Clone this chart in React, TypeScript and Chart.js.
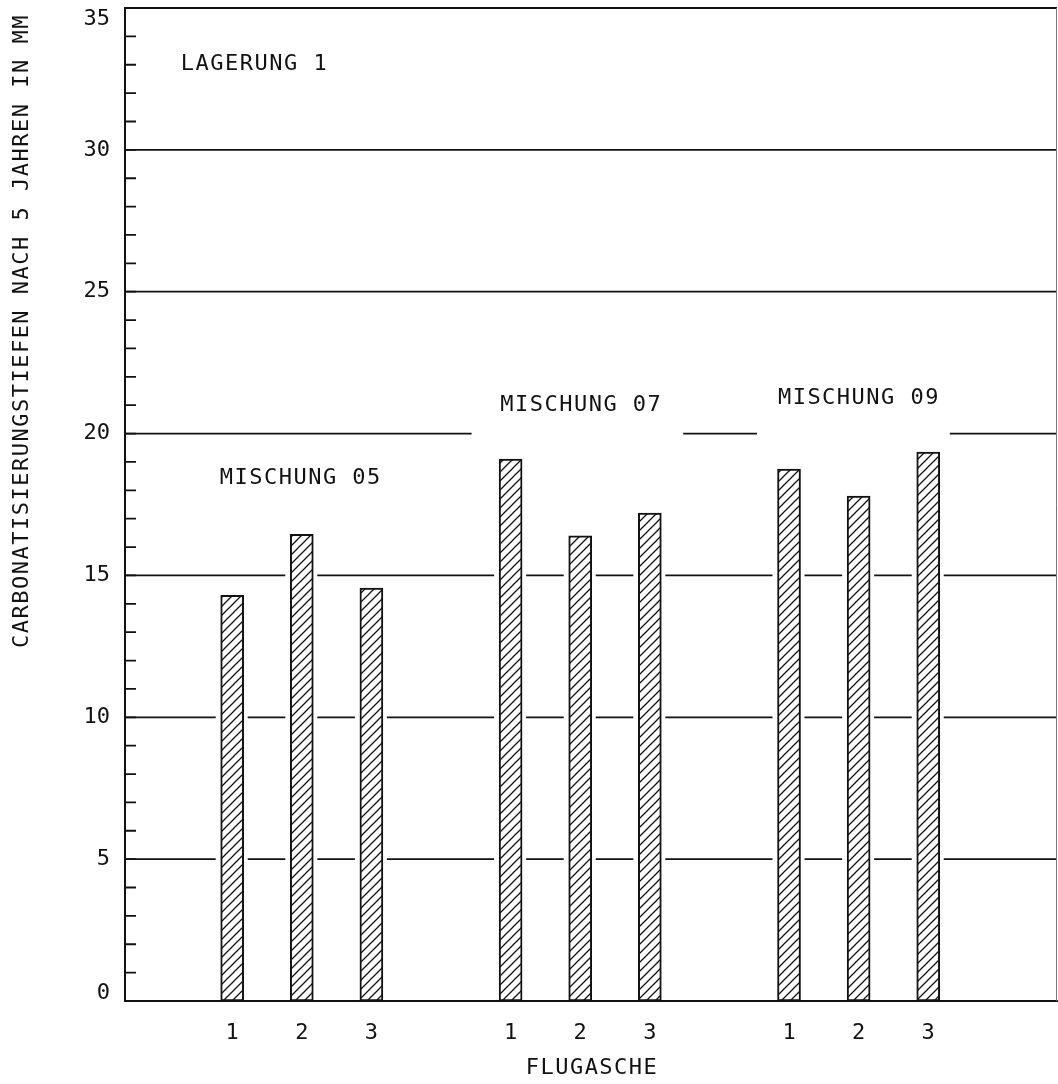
import { useEffect, useRef } from "react";
import { Chart, registerables } from "chart.js";

Chart.register(...registerables);

// Fly-ash positions along the x axis (gaps between the three mixes)
const slots = [1, 2, 3, 5, 6, 7, 9, 10, 11];
const ashLabels = ["1", "2", "3", "1", "2", "3", "1", "2", "3"];
// Carbonation depth after 5 years, mm
const depths = [14.3, 16.45, 14.55, 19.1, 16.4, 17.2, 18.75, 17.8, 19.35];

const yMajor = [0, 5, 10, 15, 20, 25, 30, 35];
const yRules = [5, 10, 15, 20, 25, 30];
const yTitle = "CARBONATISIERUNGSTIEFEN NACH 5 JAHREN IN MM";
const xTitle = "FLUGASCHE";

// Free-standing notes inside the plot (x in slot units, y in mm)
const noteTexts = ["LAGERUNG 1", "MISCHUNG 05", "MISCHUNG 07", "MISCHUNG 09"];
const noteX = [0.26, 0.82, 4.85, 8.84];
const noteY = [33.0, 18.43, 21.0, 21.25];

// Stretches of the 20 mm rule left open below the mix headings
const gapLevels = [20, 20];
const gapFrom = [4.44, 8.54];
const gapTo = [7.48, 11.31];

const FONT = '"DejaVu Sans Mono", monospace';
const INK = "#121212";

function makeHatch(): CanvasPattern | string {
  const tile = document.createElement("canvas");
  tile.width = 9;
  tile.height = 9;
  const t = tile.getContext("2d");
  if (!t) return "#fff";
  t.fillStyle = "#fff";
  t.fillRect(0, 0, 9, 9);
  t.strokeStyle = INK;
  t.lineWidth = 1.3;
  t.beginPath();
  t.moveTo(-1, 10);
  t.lineTo(10, -1);
  t.moveTo(-2, 2);
  t.lineTo(2, -2);
  t.moveTo(7, 11);
  t.lineTo(11, 7);
  t.stroke();
  const p = t.createPattern(tile, "repeat");
  return p || "#fff";
}

const plotterPlugin = {
  id: "plotter",
  beforeDatasetsDraw(chart: any) {
    const { ctx, chartArea: a, scales } = chart;
    const x = scales.x;
    const y = scales.y;
    const meta = chart.getDatasetMeta(0);
    ctx.save();
    ctx.strokeStyle = INK;
    ctx.lineWidth = 1.8;

    // horizontal rules every 5 mm, interrupted where a bar passes through
    for (const v of yRules) {
      const py = y.getPixelForValue(v);
      const cuts: number[][] = [];
      meta.data.forEach((bar: any, i: number) => {
        if (depths[i] > v) {
          const p = bar.getProps(["x", "width"], true);
          cuts.push([p.x - p.width / 2 - 5, p.x + p.width / 2 + 4]);
        }
      });
      gapLevels.forEach((lv, i) => {
        if (lv === v) cuts.push([x.getPixelForValue(gapFrom[i]), x.getPixelForValue(gapTo[i])]);
      });
      cuts.sort((p, q) => p[0] - q[0]);
      let start = a.left;
      ctx.beginPath();
      for (const [c0, c1] of cuts) {
        if (c0 > start) {
          ctx.moveTo(start, py);
          ctx.lineTo(c0, py);
        }
        start = Math.max(start, c1);
      }
      if (start < a.right) {
        ctx.moveTo(start, py);
        ctx.lineTo(a.right, py);
      }
      ctx.stroke();
    }

    // top frame
    ctx.beginPath();
    ctx.moveTo(a.left, a.top);
    ctx.lineTo(a.right, a.top);
    ctx.stroke();
    // right frame (lighter)
    ctx.lineWidth = 1;
    ctx.strokeStyle = "#777";
    ctx.beginPath();
    ctx.moveTo(a.right - 0.5, a.top);
    ctx.lineTo(a.right - 0.5, a.bottom);
    ctx.stroke();

    // 1 mm ticks on the inside of the y axis
    ctx.strokeStyle = INK;
    ctx.lineWidth = 1.8;
    ctx.beginPath();
    for (let v = 1; v < 35; v++) {
      const py = y.getPixelForValue(v);
      ctx.moveTo(a.left, py);
      ctx.lineTo(a.left + 11, py);
    }
    ctx.stroke();

    // notes
    ctx.fillStyle = INK;
    ctx.font = `22px ${FONT}`;
    (ctx as any).letterSpacing = "1.5px";
    ctx.textAlign = "left";
    ctx.textBaseline = "middle";
    noteTexts.forEach((t, i) => {
      ctx.fillText(t, x.getPixelForValue(noteX[i]), y.getPixelForValue(noteY[i]));
    });
    ctx.restore();
  },
  afterDraw(chart: any) {
    const { ctx, chartArea: a, scales } = chart;
    const y = scales.y;
    ctx.save();
    ctx.fillStyle = INK;
    ctx.font = `22px ${FONT}`;

    // y tick labels, kept inside the axis span at both ends
    ctx.textAlign = "right";
    ctx.textBaseline = "middle";
    for (const v of yMajor) {
      const py = Math.min(Math.max(y.getPixelForValue(v), a.top + 11), a.bottom - 8);
      ctx.fillText(String(v), a.left - 15, py);
    }

    (ctx as any).letterSpacing = "1.5px";
    ctx.textAlign = "center";
    ctx.textBaseline = "middle";
    ctx.fillText(xTitle, 592, 1068);

    ctx.translate(22, 331);
    ctx.rotate(-Math.PI / 2);
    ctx.fillText(yTitle, 0, 0);
    ctx.restore();
  },
};

export default function App() {
  const canvasRef = useRef<HTMLCanvasElement | null>(null);

  useEffect(() => {
    const canvas = canvasRef.current;
    if (!canvas) return;
    const hatch = makeHatch();
    const chart = new Chart(canvas, {
      type: "bar",
      data: {
        datasets: [
          {
            data: slots.map((s, i) => ({ x: s, y: depths[i] })),
            backgroundColor: hatch as any,
            borderColor: INK,
            borderWidth: 2,
            borderSkipped: false,
            barThickness: 23,
          },
        ],
      },
      options: {
        responsive: false,
        animation: false,
        events: [],
        layout: { padding: { top: 8, right: 1, left: 0, bottom: 0 } },
        plugins: { legend: { display: false }, tooltip: { enabled: false } },
        scales: {
          x: {
            type: "linear",
            offset: false,
            min: -0.54,
            max: 12.85,
            grid: { display: false, offset: false },
            border: { display: true, color: INK, width: 2 },
            afterBuildTicks: (s: any) => {
              s.ticks = slots.map((v) => ({ value: v }));
            },
            afterFit: (s: any) => {
              s.height = 83;
            },
            ticks: {
              autoSkip: false,
              maxRotation: 0,
              padding: 11,
              color: INK,
              font: { family: FONT, size: 22 },
              callback: (v: any) => {
                const i = slots.indexOf(Number(v));
                return i >= 0 ? ashLabels[i] : "";
              },
            },
          },
          y: {
            min: 0,
            max: 35,
            grid: { display: false },
            border: { display: true, color: INK, width: 2 },
            afterFit: (s: any) => {
              s.width = 125;
            },
            ticks: { display: false, stepSize: 5 },
          },
        },
      },
      plugins: [plotterPlugin],
    });
    return () => chart.destroy();
  }, []);

  return (
    <div style={{ position: "absolute", left: 0, top: 0, width: 1058, height: 1084, background: "#fff" }}>
      <canvas ref={canvasRef} width={1058} height={1084} />
    </div>
  );
}
